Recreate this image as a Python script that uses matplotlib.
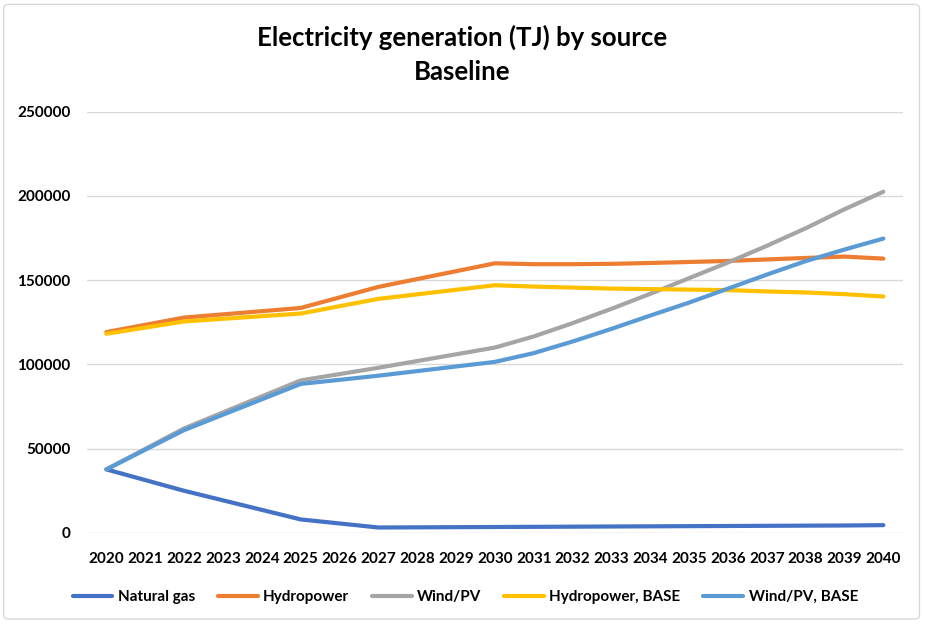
import matplotlib.pyplot as plt
from matplotlib.patches import FancyBboxPatch

# data points
years = [2020, 2022, 2025, 2027, 2030, 2031, 2032, 2033, 2034, 2035,
         2036, 2037, 2038, 2039, 2040]
natural_gas = [37700, 25000, 8000, 3200, 3500, 3600, 3700, 3800, 3900, 4000,
               4100, 4200, 4300, 4400, 4600]
hydropower = [119200, 127800, 133500, 146000, 160000, 159500, 159500, 159700,
              160200, 160800, 161400, 162300, 163200, 164000, 162800]
wind_pv = [37700, 62000, 90500, 98000, 110000, 116600, 124500, 133000,
           141900, 151200, 160500, 170400, 180800, 192100, 202500]
hydro_base = [118200, 125500, 130200, 138900, 147000, 146200, 145600, 145000,
              144700, 144400, 144100, 143300, 142700, 141700, 140300]
wind_base = [37700, 61000, 88400, 93300, 101500, 106700, 113600, 121100,
             129000, 136700, 145000, 153300, 161300, 168200, 174700]

series = [
    ("Natural gas", natural_gas, "#4472C4"),
    ("Hydropower", hydropower, "#ED7D31"),
    ("Wind/PV", wind_pv, "#A5A5A5"),
    ("Hydropower, BASE", hydro_base, "#FFC000"),
    ("Wind/PV, BASE", wind_base, "#5B9BD5"),
]

plt.rcParams['font.family'] = ['Lato', 'DejaVu Sans']

fig = plt.figure(figsize=(9.25, 6.24), dpi=100)
# light chart-area border
border = FancyBboxPatch((0.004, 0.008), 0.99, 0.985, boxstyle="round,pad=0,rounding_size=0.006",
                        transform=fig.transFigure, facecolor='none',
                        edgecolor='#D9D9D9', linewidth=1, zorder=-1)
fig.patches.append(border)
ax = fig.add_axes([0.094, 0.146, 0.882, 0.675])

for name, vals, color in series:
    ax.plot(years, vals, color=color, linewidth=3, label=name, solid_capstyle='round')

ax.set_xlim(2019.5, 2040.5)
ax.set_ylim(0, 250000)
ax.set_xticks(range(2020, 2041))
ax.set_xticklabels([str(y) for y in range(2020, 2041)], fontsize=11, fontweight='bold')
ax.set_yticks(range(0, 250001, 50000))
ax.set_yticklabels([str(v) for v in range(0, 250001, 50000)], fontsize=11, fontweight='bold')
ax.tick_params(length=0)
ax.tick_params(axis='x', pad=14)
ax.tick_params(axis='y', pad=12)
ax.grid(axis='y', color='#D9D9D9', linewidth=1)
ax.set_axisbelow(True)
for s in ax.spines.values():
    s.set_visible(False)

fig.text(0.5, 0.94, "Electricity generation (TJ) by source", ha='center', va='center',
         fontsize=18.5, fontweight='bold')
fig.text(0.5, 0.885, "Baseline", ha='center', va='center', fontsize=18.5, fontweight='bold')

leg = fig.legend(loc='center', bbox_to_anchor=(0.503, 0.043), ncol=5, frameon=False,
                 prop={'size': 11, 'weight': 'bold'}, handlelength=2.6, columnspacing=1.5,
                 handletextpad=0.35)

fig.savefig("out.png", dpi=100)
